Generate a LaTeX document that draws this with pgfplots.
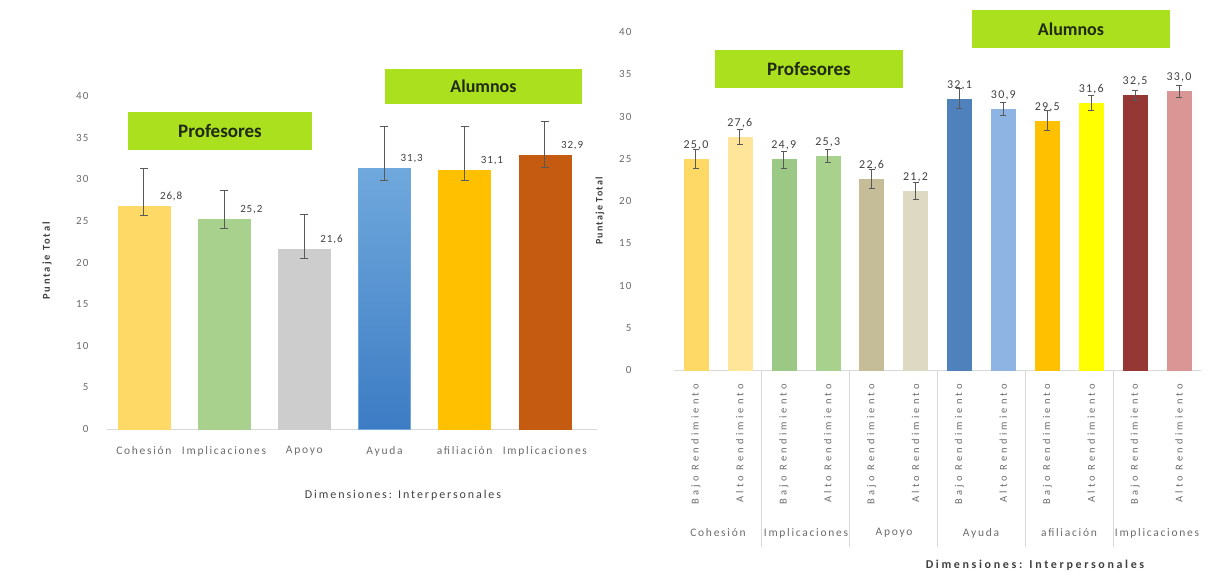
\documentclass[border=0pt]{standalone}
\usepackage{fontspec}
\setmainfont{Carlito}
\usepackage{pgfplots}
\pgfplotsset{compat=1.18}
\newcommand\ls[1]{\addfontfeatures{LetterSpace=#1}}
\definecolor{tickgray}{HTML}{6B6B6B}
\definecolor{labelgray}{HTML}{404040}
\definecolor{boxgreen}{HTML}{ABE01E}
\definecolor{boxtext}{HTML}{1F2A10}
\definecolor{errgray}{HTML}{595959}
\definecolor{basegray}{HTML}{D9D9D9}
\definecolor{c1}{HTML}{FFD966}
\definecolor{c2}{HTML}{A9D18E}
\definecolor{c3}{HTML}{CDCDCD}
\definecolor{c4t}{HTML}{6FA8DC}
\definecolor{c4b}{HTML}{3D7CC4}
\definecolor{c5}{HTML}{FFC000}
\definecolor{c6}{HTML}{C55A11}
\definecolor{r1}{HTML}{FFD966}
\definecolor{r2}{HTML}{FFE59A}
\definecolor{r3}{HTML}{9BC985}
\definecolor{r4}{HTML}{A9D18E}
\definecolor{r5}{HTML}{C4BD97}
\definecolor{r6}{HTML}{DDD9C3}
\definecolor{r7}{HTML}{4F81BD}
\definecolor{r8}{HTML}{8EB4E3}
\definecolor{r9}{HTML}{FFC000}
\definecolor{r10}{HTML}{FFFF00}
\definecolor{r11}{HTML}{953735}
\definecolor{r12}{HTML}{DA9694}
\begin{document}
\begin{tikzpicture}[x=1pt,y=1pt]
\path[use as bounding box] (0,0) rectangle (1217,-579);

% ---------------- Left chart ----------------
\begin{axis}[
  at={(107pt,-429pt)}, anchor=south west,
  scale only axis, width=490pt, height=333pt,
  xmin=-0.46, xmax=5.65, ymin=0, ymax=40,
  ytick={0,5,...,40}, xtick={0,...,5},
  xticklabels={Cohesión, Implicaciones, Apoyo, Ayuda, afiliación, Implicaciones},
  axis line style={draw=none}, major tick length=0pt,
  clip=false,
  /pgf/number format/assume math mode=true,
  tick label style={font=\fontsize{11}{13}\selectfont\ls{10}, text=tickgray},
  yticklabel style={xshift=-15pt},
  xticklabel style={yshift=-14pt, font=\fontsize{11.5}{13}\selectfont\ls{15}},
  every axis plot/.append style={ybar, bar width=52pt, bar shift=0pt},
  error bars/y dir=both, error bars/y explicit,
  error bars/error mark=-,
  error bars/error bar style={draw=errgray, line width=1pt, solid},
  error bars/error mark options={draw=errgray, line width=1pt, mark size=4pt, rotate=90},
  nodes near coords={\pgfmathprintnumber[use comma,fixed,fixed zerofill,precision=1,assume math mode=true]{\pgfplotspointmeta}},
  every node near coord/.append style={font=\fontsize{11}{13}\selectfont\ls{8}, text=labelgray, anchor=south west, inner sep=0pt, xshift=16pt, yshift=5pt},
]
\draw[basegray, line width=1pt] (rel axis cs:0,0) -- (rel axis cs:1,0);
\addplot[fill=c1, draw=c1] coordinates {(0,26.8) += (0,4.5) -= (0,1.1)};
\addplot[fill=c2, draw=c2] coordinates {(1,25.2) += (0,3.5) -= (0,1.1)};
\addplot[fill=c3, draw=c3] coordinates {(2,21.6) += (0,4.2) -= (0,1.1)};
\addplot[top color=c4t, bottom color=c4b, draw=c4t] coordinates {(3,31.3) += (0,5.0) -= (0,1.4)};
\addplot[fill=c5, draw=c5] coordinates {(4,31.1) += (0,5.2) -= (0,1.2)};
\addplot[fill=c6, draw=c6] coordinates {(5,32.9) += (0,4.0) -= (0,1.5)};
\end{axis}
\node[rotate=90, font=\fontsize{10.5}{12}\selectfont\bfseries\ls{18}, text=labelgray] at (47,-261) {Puntaje Total};
\node[font=\fontsize{12}{14}\selectfont\ls{16}, text=labelgray] at (403,-495) {Dimensiones: Interpersonales};
\fill[boxgreen] (128,-112) rectangle (312,-150);
\node[font=\fontsize{19}{22}\selectfont\bfseries, text=boxtext] at (220,-131) {Profesores};
\fill[boxgreen] (385,-69) rectangle (582,-104);
\node[font=\fontsize{18}{21}\selectfont\bfseries, text=boxtext] at (483.5,-86.5) {Alumnos};

% ---------------- Right chart ----------------
\begin{axis}[
  at={(674pt,-370pt)}, anchor=south west,
  scale only axis, width=527pt, height=338pt,
  xmin=-0.5, xmax=11.5, ymin=0, ymax=40,
  ytick={0,5,...,40}, xtick={0,...,11},
  xticklabels={Bajo Rendimiento, Alto Rendimiento, Bajo Rendimiento, Alto Rendimiento, Bajo Rendimiento, Alto Rendimiento, Bajo Rendimiento, Alto Rendimiento, Bajo Rendimiento, Alto Rendimiento, Bajo Rendimiento, Alto Rendimiento},
  axis line style={draw=none}, major tick length=0pt,
  clip=false,
  /pgf/number format/assume math mode=true,
  tick label style={font=\fontsize{11}{13}\selectfont\ls{10}, text=tickgray},
  yticklabel style={xshift=-39pt},
  xticklabel style={yshift=-14pt, rotate=90, anchor=east, inner sep=0pt, font=\fontsize{10.5}{12}\selectfont\ls{30}},
  every axis plot/.append style={ybar, bar width=24pt, bar shift=0pt},
  error bars/y dir=both, error bars/y explicit,
  error bars/error mark=-,
  error bars/error bar style={draw=errgray, line width=1pt, solid},
  error bars/error mark options={draw=errgray, line width=1pt, mark size=3pt, rotate=90},
  nodes near coords={\pgfmathprintnumber[use comma,fixed,fixed zerofill,precision=1,assume math mode=true]{\pgfplotspointmeta}},
  every node near coord/.append style={font=\fontsize{12}{14}\selectfont\ls{10}, text=labelgray, anchor=south, inner sep=0pt, yshift=9pt},
]
\draw[basegray, line width=1pt] (rel axis cs:0,0) -- (rel axis cs:1,0);
\foreach \s in {1.5,3.5,5.5,7.5,9.5} {
  \edef\tmp{\noexpand\draw[basegray, line width=0.8pt] (axis cs:\s,0) -- ++(0pt,-177pt);}\tmp
}
\addplot[fill=r1, draw=r1] coordinates {(0,25.0) +- (0,1.1)};
\addplot[fill=r2, draw=r2] coordinates {(1,27.6) +- (0,0.9)};
\addplot[fill=r3, draw=r3] coordinates {(2,24.9) +- (0,1.0)};
\addplot[fill=r4, draw=r4] coordinates {(3,25.3) +- (0,0.8)};
\addplot[fill=r5, draw=r5] coordinates {(4,22.6) +- (0,1.1)};
\addplot[fill=r6, draw=r6] coordinates {(5,21.2) +- (0,1.0)};
\addplot[fill=r7, draw=r7] coordinates {(6,32.1) +- (0,1.2)};
\addplot[fill=r8, draw=r8] coordinates {(7,30.9) +- (0,0.8)};
\addplot[fill=r9, draw=r9] coordinates {(8,29.5) +- (0,1.2)};
\addplot[fill=r10, draw=r10] coordinates {(9,31.6) +- (0,0.9)};
\addplot[fill=r11, draw=r11] coordinates {(10,32.5) +- (0,0.6)};
\addplot[fill=r12, draw=r12] coordinates {(11,33.0) +- (0,0.7)};
\end{axis}
\foreach \x/\t in {718/Cohesión, 806/Implicaciones, 894/Apoyo, 981/Ayuda, 1069/afiliación, 1157/Implicaciones} {
  \node[font=\fontsize{11.5}{13}\selectfont\ls{15}, text=tickgray] at (\x,-533) {\t};
}
\node[rotate=90, font=\fontsize{10}{12}\selectfont\bfseries\ls{12}, text=labelgray] at (600,-211) {Puntaje Total};
\node[font=\fontsize{12}{14}\selectfont\bfseries\ls{22}, text=labelgray] at (1035,-565) {Dimensiones: Interpersonales};
\fill[boxgreen] (715,-50) rectangle (903,-88);
\node[font=\fontsize{19}{22}\selectfont\bfseries, text=boxtext] at (809,-69) {Profesores};
\fill[boxgreen] (972,-10) rectangle (1170,-48);
\node[font=\fontsize{18}{21}\selectfont\bfseries, text=boxtext] at (1071,-29) {Alumnos};
\end{tikzpicture}
\end{document}
